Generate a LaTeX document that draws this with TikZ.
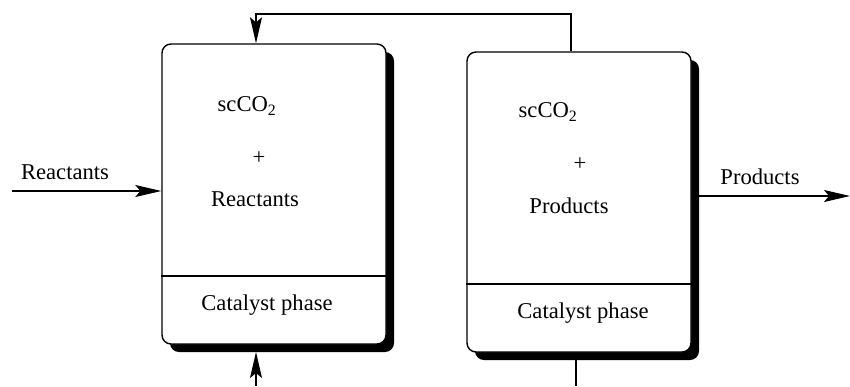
\documentclass[tikz,border=0pt]{standalone}
\usepackage{fontspec}
\setmainfont{Liberation Serif}
\usetikzlibrary{arrows.meta,shadows}
\begin{document}
\begin{tikzpicture}[x=1pt,y=-1pt,
  vessel/.style={draw=black,line width=1.4pt,rounded corners=9pt,fill=white,
    minimum width=224pt,minimum height=300pt,inner sep=0pt,
    drop shadow={shadow xshift=8pt,shadow yshift=-8pt,fill=black,opacity=1}},
  lbl/.style={font=\fontsize{22.6}{27}\selectfont,inner sep=0pt},
  conn/.style={line width=1.2pt},
  arr/.style={conn,-{Stealth[length=26pt,width=12pt,inset=5pt]}}]
\useasboundingbox (0,0) rectangle (850,386);
\node[vessel] (L) at (274,194) {};
\node[vessel] (R) at (579,202) {};
\draw[line width=1.2pt] (L.west |- 0,276) -- (L.east |- 0,276);
\draw[line width=1.2pt] (R.west |- 0,284) -- (R.east |- 0,284);
\node[lbl] (l1) at (247,106) {scCO\textsubscript{2}};
\node[lbl] (l2) at (259,158) {+};
\node[lbl] (l3) at (255,199) {Reactants};
\node[lbl] (l4) at (267,305) {Catalyst phase};
\node[lbl] (r1) at (548,112) {scCO\textsubscript{2}};
\node[lbl] (r2) at (580,164) {+};
\node[lbl] (r3) at (569,206) {Products};
\node[lbl] (r4) at (583,313) {Catalyst phase};
\node[lbl] (inl) at (65,172) {Reactants};
\node[lbl] (outl) at (760,177) {Products};
\coordinate (inS) at (12,191);
\coordinate (outE) at (850,196);
\coordinate (topL) at (256,14);
\coordinate (topR) at (571,14);
\coordinate (botL) at (256,386);
\coordinate (botLt) at (256,352);
\coordinate (botR) at (576,386);
\coordinate (botRt) at (576,360);
\draw[arr] (inS) -- (inS -| L.west);
\draw[arr] (outE -| R.east) -- (outE);
\draw[arr] (topR |- R.north) -- (topR) -- (topL) -- (topL |- L.north);
\draw[arr] (botL) -- (botLt);
\draw[conn] (botRt) -- (botR);
\end{tikzpicture}
\end{document}
